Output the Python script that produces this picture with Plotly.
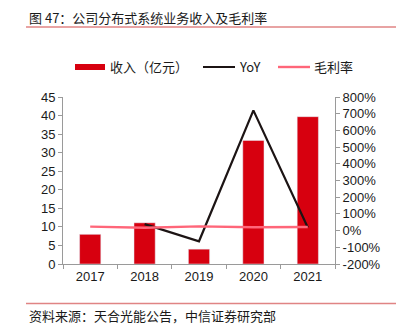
import plotly.graph_objects as go

years = ["2017", "2018", "2019", "2020", "2021"]
revenue = [8.0, 11.1, 4.0, 33.3, 39.7]          # 收入（亿元）
yoy = [None, 39, -64, 720, 19]                   # YoY, %
gross_margin = [24, 17, 25, 20, 22]              # 毛利率, %

left_ticks = list(range(0, 50, 5))
right_ticks = list(range(-200, 900, 100))
right_labels = [f"{v}%" for v in right_ticks]

RED = "#d7000f"
BLACK = "#1c1414"
PINK = "#ff6679"
AXIS = "#9a9a9a"
TEXT = "#1a1a1a"
CJK = "Noto Sans CJK SC, Liberation Sans, sans-serif"
NUM = "Liberation Sans, Arial, sans-serif"

W, H = 403, 324
L, R, T, B = 63, 68, 97, 60
pw, ph = W - L - R, H - T - B

fig = go.Figure()
fig.add_trace(go.Bar(x=years, y=revenue, marker_color=RED, width=0.39,
                     name="收入（亿元）", showlegend=False))
fig.add_trace(go.Scatter(x=years, y=yoy, mode="lines", yaxis="y2",
                         line=dict(color=BLACK, width=2.2), name="YoY",
                         showlegend=False))
fig.add_trace(go.Scatter(x=years, y=gross_margin, mode="lines", yaxis="y2",
                         line=dict(color=PINK, width=2.4), name="毛利率",
                         showlegend=False))

fig.update_layout(
    width=W, height=H,
    margin=dict(l=L, r=R, t=T, b=B),
    paper_bgcolor="white", plot_bgcolor="white",
    font=dict(family=NUM, size=13, color=TEXT),
    xaxis=dict(type="category", showline=True, linecolor=AXIS, linewidth=1,
               ticks="outside", ticklen=4, tickcolor=AXIS, tickson="boundaries",
               showgrid=False, tickfont=dict(family=NUM, size=13, color=TEXT)),
    yaxis=dict(range=[0, 45], tickvals=left_ticks, showline=True, linecolor=AXIS,
               ticks="outside", ticklen=4, tickcolor=AXIS, showgrid=False,
               zeroline=False, tickfont=dict(family=NUM, size=13, color=TEXT)),
    yaxis2=dict(range=[-200, 800], overlaying="y", side="right",
                tickvals=right_ticks, ticktext=right_labels, showline=True,
                linecolor=AXIS, ticks="outside", ticklen=4, tickcolor=AXIS,
                showgrid=False, zeroline=False,
                tickfont=dict(family=NUM, size=13, color=TEXT)),
)


# helpers: figure pixel position -> paper fraction of the plot area
def fx(x):
    return (x - L) / pw


def fy(y):
    return (H - B - y) / ph


def hline(x0, x1, y, color, width):
    return dict(type="line", xref="paper", yref="paper", x0=fx(x0), x1=fx(x1),
                y0=fy(y), y1=fy(y), line=dict(color=color, width=width))


shapes = [
    hline(26, 396, 27, "#e08484", 1.5),     # rule under the caption
    hline(26, 396, 303.5, "#e08484", 1.5),  # rule above the source note
    # legend keys
    dict(type="rect", xref="paper", yref="paper", x0=fx(75), x1=fx(105),
         y0=fy(70), y1=fy(64), fillcolor=RED, line=dict(width=0)),
    hline(203, 235, 67, BLACK, 2),
    hline(278, 310, 67, PINK, 2.4),
]
fig.update_layout(shapes=shapes)

labels = [
    ("图 47：公司分布式系统业务收入及毛利率", 28, 17, "middle"),
    ("收入（亿元）", 109, 67, "middle"),
    ("YoY", 238, 67, "middle"),
    ("毛利率", 313, 67, "middle"),
    ("资料来源：天合光能公告，中信证券研究部", 28, 326, "bottom"),
]
for text, x, y, anchor in labels:
    fig.add_annotation(text=text, xref="paper", yref="paper",
                       x=fx(x), y=fy(y), xanchor="left", yanchor=anchor,
                       showarrow=False, borderpad=0,
                       font=dict(family=CJK, size=13, color=TEXT))

fig.write_html("out.html")
